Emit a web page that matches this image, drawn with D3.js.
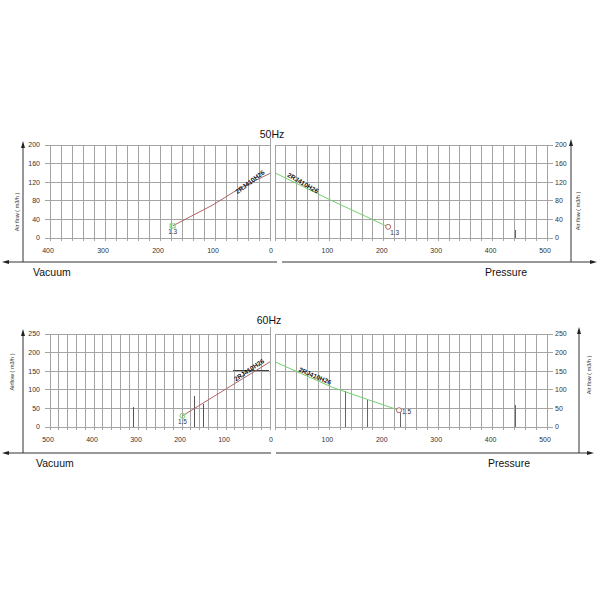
<!DOCTYPE html>
<html><head><meta charset="utf-8">
<script src="https://cdn.jsdelivr.net/npm/d3@7"></script>
<style>body{margin:0;background:#fff}svg{display:block}text{font-family:Arial,"Liberation Sans",sans-serif}</style>
</head><body><svg id="c" width="600" height="600"></svg>
<script>
// ---- 50 Hz data ----
const title50 = "50Hz";
const vacTicks50 = [400, 300, 200, 100, 0];
const presTicks50 = [0, 100, 200, 300, 400, 500];
const flowTicks50 = [0, 40, 80, 120, 160, 200];
const vacX50 = [0, 55, 104, 177];
const vacY50 = [139, 107, 71, 26];
const presX50 = [0, 105, 208];
const presY50 = [140, 80, 24];
const endLabel50 = "1.3";
const model50 = "2RJ410H26";
const presMarks50X = [442];
const presMarks50Y = [17];
const vacMarks50X = [];
const vacMarks50Y = [];

// ---- 60 Hz data ----
const title60 = "60Hz";
const vacTicks60 = [500, 400, 300, 200, 100, 0];
const presTicks60 = [0, 100, 200, 300, 400, 500];
const flowTicks60 = [0, 50, 100, 150, 200, 250];
const vacX60 = [0, 99, 199];
const vacY60 = [175, 103, 30];
const presX60 = [0, 105, 172, 228];
const presY60 = [175, 107, 73, 45];
const endLabel60 = "1.5";
const model60 = "2RJ410H26";
const vacMarks60X = [311, 172, 152];
const vacMarks60Y = [55, 82, 63];
const presMarks60X = [130, 170, 231, 442];
const presMarks60Y = [96, 73, 42, 60];

const axisLabel = "Air flow ( m3/h )";
const axisLabel60 = "Airflow ( m3/h )";
const leftWord = "Vacuum", rightWord = "Pressure";

const svg = d3.select("#c");
const RED = "#b06464", GREEN = "#74cf6c", GRID = "#a4a4a4", TXT = "#333";

function arrow(g, x, y, dir) {
  const s = 3.2, l = 7;
  let pts;
  if (dir === "up") pts = [[x, y], [x - s/1.6, y + l], [x + s/1.6, y + l]];
  if (dir === "left") pts = [[x, y], [x + l, y - s/1.6], [x + l, y + s/1.6]];
  if (dir === "right") pts = [[x, y], [x - l, y - s/1.6], [x - l, y + s/1.6]];
  g.append("path").attr("d", "M" + pts.map(p => p.join(",")).join("L") + "Z").attr("fill", "#222");
}

function drawChart(cfg) {
  const g = svg.append("g");
  const y = d3.scaleLinear().domain([0, cfg.yMax]).range([cfg.y0, cfg.yTop]);
  const xl = d3.scaleLinear().domain([cfg.vMax, 0]).range([50, 270]);
  const xr = d3.scaleLinear().domain([0, cfg.pMax]).range([275, 547]);

  const vGrid = d3.range(0, cfg.vMax + 1, 20);
  const pGrid = d3.range(0, cfg.pMax + 1, 20);
  g.selectAll(null).data(vGrid).enter().append("line")
    .attr("x1", d => xl(d)).attr("x2", d => xl(d))
    .attr("y1", d => d === 0 ? cfg.yTop - 7 : cfg.yTop).attr("y2", cfg.y0 + 3)
    .attr("stroke", GRID).attr("stroke-width", 1).attr("shape-rendering", "crispEdges");
  g.selectAll(null).data(pGrid).enter().append("line")
    .attr("x1", d => xr(d)).attr("x2", d => xr(d))
    .attr("y1", cfg.yTop).attr("y2", cfg.y0 + 3)
    .attr("stroke", GRID).attr("stroke-width", 1).attr("shape-rendering", "crispEdges");
  g.selectAll(null).data(cfg.yTicks).enter().append("line")
    .attr("x1", 45).attr("x2", 270).attr("y1", d => y(d)).attr("y2", d => y(d))
    .attr("stroke", GRID).attr("shape-rendering", "crispEdges");
  g.selectAll(null).data(cfg.yTicks).enter().append("line")
    .attr("x1", 275).attr("x2", 553).attr("y1", d => y(d)).attr("y2", d => y(d))
    .attr("stroke", GRID).attr("shape-rendering", "crispEdges");

  g.selectAll(null).data(cfg.yTicks).enter().append("text")
    .attr("x", 40).attr("y", d => y(d)).attr("dy", "0.35em").attr("text-anchor", "end")
    .attr("font-size", 7).attr("fill", TXT).text(d => d);
  g.selectAll(null).data(cfg.yTicks).enter().append("text")
    .attr("x", 555).attr("y", d => y(d)).attr("dy", "0.35em").attr("text-anchor", "start")
    .attr("font-size", 7).attr("fill", TXT).text(d => d);
  g.selectAll(null).data(cfg.vTicks).enter().append("text")
    .attr("x", d => xl(d) - (d === 0 ? -1 : 2)).attr("y", cfg.y0 + 13).attr("dy", "0.35em")
    .attr("text-anchor", "middle").attr("font-size", 7).attr("fill", TXT).text(d => d);
  g.selectAll(null).data(cfg.pTicks.filter(d => d !== 0)).enter().append("text")
    .attr("x", d => xr(d) - 2).attr("y", cfg.y0 + 13).attr("dy", "0.35em")
    .attr("text-anchor", "middle").attr("font-size", 7).attr("fill", TXT).text(d => d);

  cfg.vMarksX.forEach((v, i) => g.append("line").attr("x1", xl(v)).attr("x2", xl(v))
    .attr("y1", y(0)).attr("y2", y(cfg.vMarksY[i])).attr("stroke", "#555").attr("shape-rendering", "crispEdges"));
  cfg.pMarksX.forEach((v, i) => g.append("line").attr("x1", xr(v)).attr("x2", xr(v))
    .attr("y1", y(0)).attr("y2", y(cfg.pMarksY[i])).attr("stroke", "#666").attr("shape-rendering", "crispEdges"));
  if (cfg.hMark) g.append("line").attr("x1", xl(cfg.hMark[1])).attr("x2", xl(cfg.hMark[2]))
    .attr("y1", y(cfg.hMark[0])).attr("y2", y(cfg.hMark[0])).attr("stroke", "#444").attr("shape-rendering", "crispEdges");

  const vacPts = cfg.vacX.map((v, i) => [xl(v), y(cfg.vacY[i])]);
  const presPts = cfg.presX.map((v, i) => [xr(v), y(cfg.presY[i])]);
  g.append("path").attr("d", d3.line()(vacPts)).attr("fill", "none").attr("stroke", RED).attr("stroke-width", 1);
  g.append("path").attr("d", d3.line()(presPts)).attr("fill", "none").attr("stroke", GREEN).attr("stroke-width", 1);

  const ve = vacPts[vacPts.length - 1], pe = presPts[presPts.length - 1];
  if (cfg.squareMarker) {
    g.append("rect").attr("x", ve[0] - 2.5).attr("y", ve[1] - 2).attr("width", 5).attr("height", 4)
      .attr("fill", "none").attr("stroke", GREEN);
  } else {
    g.append("circle").attr("cx", ve[0]).attr("cy", ve[1]).attr("r", 2.5).attr("fill", "none").attr("stroke", GREEN);
  }
  g.append("text").attr("x", ve[0]).attr("y", ve[1] + 6).attr("dy", "0.35em").attr("text-anchor", "middle")
    .attr("font-size", 6.5).attr("fill", "#333").text(cfg.endLabel);
  g.append("circle").attr("cx", pe[0]).attr("cy", pe[1]).attr("r", 2.5).attr("fill", "#fff").attr("stroke", RED);
  g.append("text").attr("x", pe[0] + cfg.pLabDx).attr("y", pe[1] + cfg.pLabDy).attr("dy", "0.35em")
    .attr("font-size", 6.5).attr("fill", "#333").text(cfg.endLabel);

  g.append("text").attr("transform", `translate(${cfg.ml[0]},${cfg.ml[1]}) rotate(${cfg.ml[2]})`)
    .attr("text-anchor", "middle").attr("dy", "0.35em").attr("font-size", 6.5).attr("font-weight", "bold")
    .attr("fill", "#111").text(cfg.model);
  g.append("text").attr("transform", `translate(${cfg.mr[0]},${cfg.mr[1]}) rotate(${cfg.mr[2]})`)
    .attr("text-anchor", "middle").attr("dy", "0.35em").attr("font-size", 6.5).attr("font-weight", "bold")
    .attr("fill", "#111").text(cfg.model);

  g.append("text").attr("x", cfg.titleX).attr("y", cfg.titleY).attr("dy", "0.35em").attr("text-anchor", "middle")
    .attr("font-size", 10.5).attr("fill", "#111").text(cfg.title);

  const base = cfg.base;
  g.append("line").attr("x1", 23).attr("x2", 23).attr("y1", cfg.axTop + 5).attr("y2", base).attr("stroke", "#333");
  arrow(g, 23, cfg.axTop, "up");
  g.append("line").attr("x1", cfg.rAx).attr("x2", cfg.rAx).attr("y1", cfg.axTop + 5).attr("y2", base).attr("stroke", "#333");
  arrow(g, cfg.rAx, cfg.axTop - 2, "up");
  g.append("line").attr("x1", 6).attr("x2", cfg.gap[0]).attr("y1", base).attr("y2", base).attr("stroke", "#333");
  g.append("line").attr("x1", cfg.gap[1]).attr("x2", cfg.arrowR - 5).attr("y1", base).attr("y2", base).attr("stroke", "#333");
  arrow(g, 2, base, "left");
  arrow(g, cfg.arrowR, base, "right");

  g.append("text").attr("x", cfg.vacX0).attr("y", base + 10).attr("dy", "0.35em").attr("font-size", 10.5)
    .attr("fill", "#111").text(leftWord);
  g.append("text").attr("x", cfg.presX0).attr("y", base + 10).attr("dy", "0.35em").attr("font-size", 10.5)
    .attr("fill", "#111").text(rightWord);

  g.append("text").attr("transform", `translate(${cfg.ylab[0]},${cfg.ylab[1]}) rotate(-90)`)
    .attr("text-anchor", "middle").attr("dy", "0.35em").attr("font-size", 5.5).attr("fill", TXT).text(cfg.yTitleL);
  g.append("text").attr("transform", `translate(${cfg.ylabR[0]},${cfg.ylabR[1]}) rotate(-90)`)
    .attr("text-anchor", "middle").attr("dy", "0.35em").attr("font-size", 5.5).attr("fill", TXT).text(axisLabel);
}

drawChart({
  title: title50, titleX: 272, titleY: 134,
  yMax: 200, y0: 238, yTop: 145, yTicks: flowTicks50,
  vMax: 400, pMax: 500, vTicks: vacTicks50, pTicks: presTicks50,
  vacX: vacX50, vacY: vacY50, presX: presX50, presY: presY50,
  endLabel: endLabel50, model: model50, squareMarker: true, pLabDx: 2, pLabDy: 6,
  ml: [250, 182, -37], mr: [303, 183, 30],
  vMarksX: vacMarks50X, vMarksY: vacMarks50Y, pMarksX: presMarks50X, pMarksY: presMarks50Y,
  base: 262, axTop: 141, rAx: 571, gap: [277, 282], arrowR: 597,
  vacX0: 33, presX0: 485, ylab: [17, 212], ylabR: [578, 211], yTitleL: axisLabel
});

drawChart({
  title: title60, titleX: 269, titleY: 320,
  yMax: 250, y0: 427, yTop: 334, yTicks: flowTicks60,
  vMax: 500, pMax: 500, vTicks: vacTicks60, pTicks: presTicks60,
  vacX: vacX60, vacY: vacY60, presX: presX60, presY: presY60,
  endLabel: endLabel60, model: model60, squareMarker: false, pLabDx: 3, pLabDy: 1,
  ml: [249, 370, -34], mr: [315, 376, 23],
  vMarksX: vacMarks60X, vMarksY: vacMarks60Y, pMarksX: presMarks60X, pMarksY: presMarks60Y,
  hMark: [151, 84, 2],
  base: 453, axTop: 329, rAx: 579, gap: [271, 276], arrowR: 594,
  vacX0: 36, presX0: 488, ylab: [12, 372], ylabR: [589, 375], yTitleL: axisLabel60
});
</script></body></html>
